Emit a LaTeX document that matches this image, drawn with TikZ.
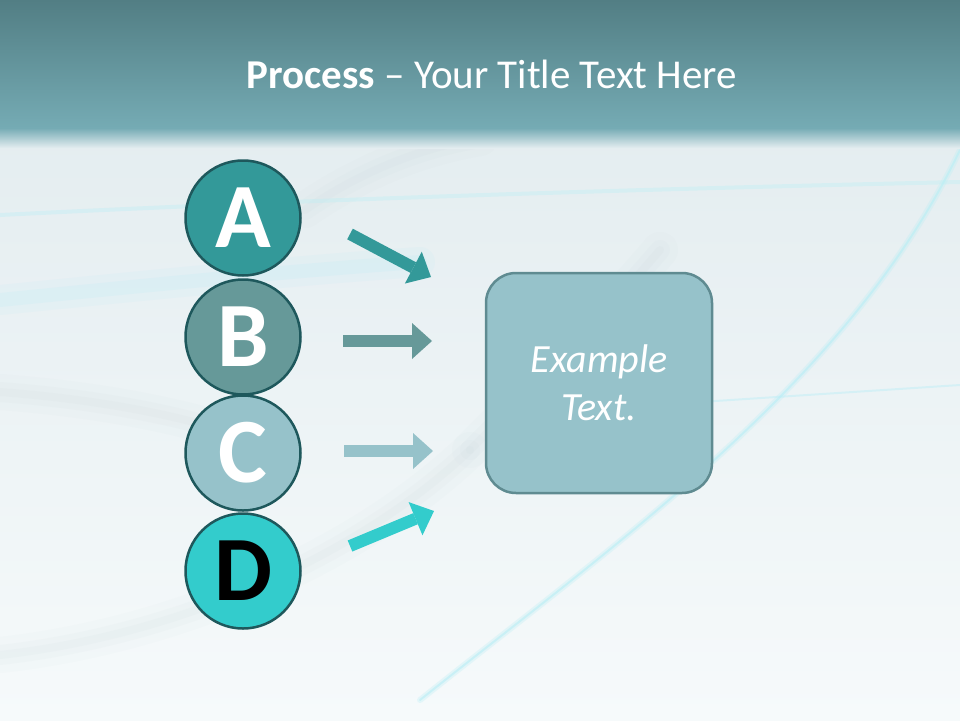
\documentclass[tikz,border=0pt]{standalone}
\usepackage{fontspec}
\setmainfont{Carlito}
\usetikzlibrary{arrows.meta}
\definecolor{bandtop}{RGB}{82,126,132}
\definecolor{bandbot}{RGB}{117,171,180}
\definecolor{bgA}{RGB}{228,237,240}
\definecolor{bgB}{RGB}{246,250,251}
\definecolor{colA}{RGB}{51,153,153}
\definecolor{colB}{RGB}{102,153,153}
\definecolor{colC}{RGB}{150,194,202}
\definecolor{colD}{RGB}{51,204,204}
\definecolor{ringcol}{RGB}{30,88,92}
\definecolor{boxfill}{RGB}{150,194,202}
\definecolor{boxdraw}{RGB}{95,139,145}
\definecolor{swgrey}{RGB}{180,198,203}
\definecolor{swcyan}{RGB}{185,238,245}
\tikzset{
  letter/.style={circle, draw=ringcol, line width=2.5pt, minimum size=115pt,
    inner sep=0pt, font=\fontsize{92}{92}\selectfont\bfseries},
  arr/.style={line width=12pt, -{Triangle[width=36pt,length=20pt,line width=0pt]}},
  softgrey/.style={swgrey, line cap=round},
  softcyan/.style={swcyan, line cap=round},
}
\begin{document}
\begin{tikzpicture}[x=1pt,y=-1pt]
\useasboundingbox (0,0) rectangle (960,720);
% background
\shade[top color=bgA, bottom color=bgB] (0,128) rectangle (960,720);
% soft swooshes (stacked transparent strokes for a blurred look)
\foreach \w/\o in {36/0.04, 20/0.05, 8/0.06} {
  \draw[softgrey, line width=\w pt, opacity=\o] (0,655) .. controls (180,635) and (360,555) .. (470,450);
  \draw[softgrey, line width=\w pt, opacity=\o] (0,392) .. controls (80,398) and (150,410) .. (205,425);
  \draw[softgrey, line width=\w pt, opacity=\o] (305,210) .. controls (360,172) and (420,148) .. (480,138);
  \draw[softgrey, line width=\w pt, opacity=\o] (470,450) .. controls (540,380) and (600,320) .. (660,250);
}
\foreach \w/\o in {30/0.12, 14/0.18} {
  \draw[softcyan, line width=\w pt, opacity=\o] (0,300) .. controls (150,285) and (300,270) .. (420,262);
}
\draw[softcyan, line width=4pt, opacity=0.35] (0,215) .. controls (300,200) and (600,190) .. (960,182);
\draw[softcyan, line width=6pt, opacity=0.3] (420,700) .. controls (620,540) and (850,380) .. (960,150);
\draw[softcyan, line width=2pt, opacity=0.6] (420,700) .. controls (620,540) and (850,380) .. (960,150);
\draw[softcyan, line width=2pt, opacity=0.45] (700,402) -- (960,385);
% title band
\shade[top color=bandtop, bottom color=bandbot] (0,0) rectangle (960,128);
\shade[top color=bandbot, bottom color=bgA] (0,128) rectangle (960,148);
\node[text=white, anchor=base, font=\fontsize{41}{49}\selectfont] (title) at (492,88)
  {\textbf{Process} – Your Title Text Here};
% circles
\node[letter, fill=colA, text=white] (A) at (243,218) {A};
\node[letter, fill=colB, text=white] (B) at (243,337) {B};
\node[letter, fill=colC, text=white] (C) at (243,453) {C};
\node[letter, fill=colD, text=black] (D) at (243,571) {D};
% arrows
\coordinate (a1) at (350,234); \coordinate (a2) at (431,277);
\coordinate (b1) at (343,341); \coordinate (b2) at (432,341);
\coordinate (c1) at (344,451); \coordinate (c2) at (433,451);
\coordinate (d1) at (350,546); \coordinate (d2) at (434,511);
\draw[arr, colA] (a1) -- (a2);
\draw[arr, colB] (b1) -- (b2);
\draw[arr, colC] (c1) -- (c2);
\draw[arr, colD] (d1) -- (d2);
% box
\node[draw=boxdraw, fill=boxfill, line width=2.5pt, rounded corners=30pt,
  minimum width=226pt, minimum height=220pt, text=white, align=center,
  font=\fontsize{40}{48}\selectfont\itshape] (box) at (599,383) {Example\\Text.};
\end{tikzpicture}
\end{document}
